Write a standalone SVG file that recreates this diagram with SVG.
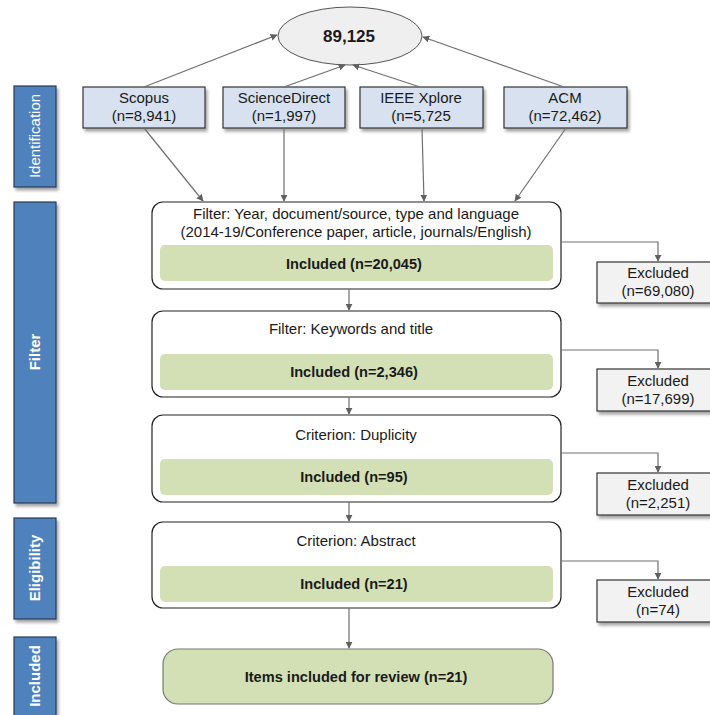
<svg xmlns="http://www.w3.org/2000/svg" width="710" height="715" viewBox="0 0 710 715">
<defs>
<filter id="sh" x="-10%" y="-10%" width="130%" height="140%"><feDropShadow dx="2" dy="3" stdDeviation="1.5" flood-color="#000" flood-opacity="0.35"/></filter>
<marker id="ah" viewBox="0 0 10 10" refX="9" refY="5" markerWidth="7" markerHeight="7" orient="auto-start-reverse" markerUnits="userSpaceOnUse"><path d="M0,0 L10,5 L0,10 z" fill="#606060"/></marker>
<style>
text{font-family:"Liberation Sans",Arial,sans-serif;font-size:15px;fill:#1a1a1a}
.b{font-weight:bold;font-size:14.6px}
.band{fill:#4f81bd;stroke:#2a3c55;stroke-width:1.2}
.bt{fill:#fff;font-weight:bold;font-size:15px}
.src{fill:#d7e1ef;stroke:#333;stroke-width:1.2}
.stage{fill:#fff;stroke:#222;stroke-width:1.2}
.green{fill:#d3e0b6}
.exc{fill:#f2f2f2;stroke:#333;stroke-width:1.2}
.c{fill:none;stroke:#707070;stroke-width:1.2;marker-end:url(#ah)}
</style>
</defs>
<rect width="710" height="715" fill="#fff"/>

<g id="band-identification"><rect class="band" x="14" y="86" width="42" height="101" filter="url(#sh)"/><text class="bt" style="font-weight:normal" transform="translate(40,136) rotate(-90)" text-anchor="middle">Identification</text></g>
<g id="band-filter"><rect class="band" x="14" y="202" width="42" height="301" filter="url(#sh)"/><text class="bt" transform="translate(40,352) rotate(-90)" text-anchor="middle">Filter</text></g>
<g id="band-eligibility"><rect class="band" x="14" y="518" width="42" height="101" filter="url(#sh)"/><text class="bt" transform="translate(40,568) rotate(-90)" text-anchor="middle">Eligibility</text></g>
<g id="band-included"><rect class="band" x="14" y="637" width="42" height="90" filter="url(#sh)"/><text class="bt" transform="translate(40,676) rotate(-90)" text-anchor="middle">Included</text></g>

<g id="total"><ellipse cx="350" cy="36" rx="72" ry="29" fill="#efefef" stroke="#555" stroke-width="1"/><text class="b" x="349" y="42" text-anchor="middle" style="font-size:17px">89,125</text></g>

<g id="scopus"><rect class="src" x="83" y="87" width="122" height="41" filter="url(#sh)"/><text x="144" y="103" text-anchor="middle">Scopus</text><text x="144" y="121" text-anchor="middle">(n=8,941)</text></g>
<g id="sciencedirect"><rect class="src" x="223" y="87" width="122" height="41" filter="url(#sh)"/><text x="284" y="103" text-anchor="middle">ScienceDirect</text><text x="284" y="121" text-anchor="middle">(n=1,997)</text></g>
<g id="ieee"><rect class="src" x="360" y="87" width="123" height="41" filter="url(#sh)"/><text x="421" y="103" text-anchor="middle">IEEE Xplore</text><text x="421" y="121" text-anchor="middle">(n=5,725</text></g>
<g id="acm"><rect class="src" x="504" y="87" width="123" height="41" filter="url(#sh)"/><text x="565" y="103" text-anchor="middle">ACM</text><text x="565" y="121" text-anchor="middle">(n=72,462)</text></g>

<g id="filter1"><rect class="stage" x="152" y="202" width="409" height="87" rx="11"/><text x="356" y="219" text-anchor="middle">Filter: Year, document/source, type and language</text><text x="356" y="237" text-anchor="middle">(2014-19/Conference paper, article, journals/English)</text><rect class="green" x="160" y="245" width="393" height="36" rx="5"/><text class="b" x="354" y="269" text-anchor="middle">Included (n=20,045)</text></g>
<g id="filter2"><rect class="stage" x="152" y="311" width="409" height="86" rx="11"/><text x="351" y="334" text-anchor="middle">Filter: Keywords and title</text><rect class="green" x="160" y="354" width="393" height="36" rx="5"/><text class="b" x="354" y="377" text-anchor="middle">Included (n=2,346)</text></g>
<g id="duplicity"><rect class="stage" x="152" y="415" width="409" height="87" rx="11"/><text x="356" y="440" text-anchor="middle">Criterion: Duplicity</text><rect class="green" x="160" y="459" width="393" height="36" rx="5"/><text class="b" x="354" y="482" text-anchor="middle">Included (n=95)</text></g>
<g id="abstract"><rect class="stage" x="152" y="522" width="409" height="86" rx="11"/><text x="356" y="546" text-anchor="middle">Criterion: Abstract</text><rect class="green" x="160" y="566" width="393" height="36" rx="5"/><text class="b" x="354" y="589" text-anchor="middle">Included (n=21)</text></g>
<g id="final"><rect x="163" y="649" width="390" height="55" rx="15" fill="#d3e0b6" stroke="#777" stroke-width="1.2"/><text class="b" x="356" y="682" text-anchor="middle">Items included for review (n=21)</text></g>

<g id="excl1"><rect class="exc" x="597" y="262" width="122" height="41" filter="url(#sh)"/><text x="658" y="278" text-anchor="middle">Excluded</text><text x="658" y="296" text-anchor="middle">(n=69,080)</text></g>
<g id="excl2"><rect class="exc" x="597" y="369" width="122" height="42" filter="url(#sh)"/><text x="658" y="386" text-anchor="middle">Excluded</text><text x="658" y="404" text-anchor="middle">(n=17,699)</text></g>
<g id="excl3"><rect class="exc" x="597" y="473" width="122" height="42" filter="url(#sh)"/><text x="658" y="490" text-anchor="middle">Excluded</text><text x="658" y="508" text-anchor="middle">(n=2,251)</text></g>
<g id="excl4"><rect class="exc" x="597" y="580" width="122" height="42" filter="url(#sh)"/><text x="658" y="597" text-anchor="middle">Excluded</text><text x="658" y="615" text-anchor="middle">(n=74)</text></g>

<g id="connectors">
<line class="c" x1="144" y1="87" x2="277" y2="35"/>
<line class="c" x1="284" y1="87" x2="345" y2="65"/>
<line class="c" x1="420" y1="87" x2="353" y2="65"/>
<line class="c" x1="564" y1="87" x2="423" y2="37"/>
<line class="c" x1="144" y1="128" x2="203" y2="201"/>
<line class="c" x1="284" y1="128" x2="284" y2="201"/>
<line class="c" x1="422" y1="128" x2="424" y2="201"/>
<line class="c" x1="566" y1="128" x2="515" y2="201"/>
<line class="c" x1="349" y1="289" x2="349" y2="310"/>
<line class="c" x1="349" y1="397" x2="349" y2="414"/>
<line class="c" x1="349" y1="502" x2="349" y2="521"/>
<line class="c" x1="349" y1="608" x2="349" y2="648"/>
<polyline class="c" points="561,242 658,242 658,261"/>
<polyline class="c" points="561,350 658,350 658,368"/>
<polyline class="c" points="561,453 658,453 658,472"/>
<polyline class="c" points="561,561 658,561 658,579"/>
</g>
</svg>
